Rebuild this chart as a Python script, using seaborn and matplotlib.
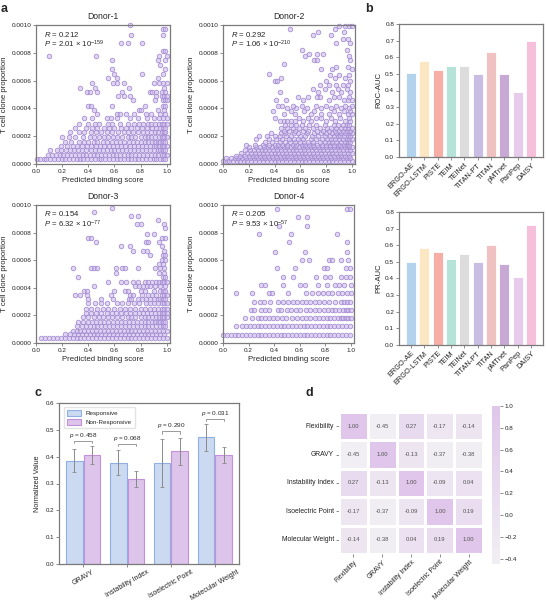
import numpy as np
import pandas as pd
import matplotlib
matplotlib.use("Agg")
import matplotlib.pyplot as plt
import seaborn as sns
from matplotlib.colors import LinearSegmentedColormap
from matplotlib.patches import Patch
from matplotlib.ticker import FormatStrFormatter, MultipleLocator

#
#
# DATA

# panel a : rows of points -> (T cell clone proportion, [predicted binding scores])
donor1_rows = [
  (0.000033, [0.01, 0.03, 0.06, 0.08, 0.11, 0.14, 0.17, 0.20, 0.22, 0.25, 0.28, 0.31, 0.34, 0.36, 0.39, 0.42, 0.45, 0.48, 0.50, 0.53, 0.56, 0.59, 0.62, 0.64, 0.67, 0.70, 0.73, 0.76, 0.78, 0.81, 0.84, 0.87, 0.90, 0.92, 0.95, 0.97, 0.99]),
  (0.000065, [0.09, 0.12, 0.15, 0.18, 0.21, 0.24, 0.27, 0.30, 0.33, 0.36, 0.38, 0.41, 0.44, 0.47, 0.50, 0.53, 0.56, 0.59, 0.61, 0.64, 0.67, 0.70, 0.73, 0.76, 0.79, 0.82, 0.85, 0.88, 0.91, 0.93, 0.96, 0.98, 1.00]),
  (0.000098, [0.11, 0.16, 0.19, 0.23, 0.26, 0.29, 0.32, 0.35, 0.38, 0.42, 0.45, 0.48, 0.51, 0.54, 0.57, 0.60, 0.63, 0.66, 0.69, 0.72, 0.75, 0.78, 0.81, 0.84, 0.87, 0.90, 0.93, 0.95, 0.97, 0.99]),
  (0.00013, [0.19, 0.24, 0.28, 0.31, 0.35, 0.39, 0.42, 0.46, 0.49, 0.52, 0.56, 0.59, 0.62, 0.65, 0.68, 0.72, 0.75, 0.78, 0.81, 0.84, 0.87, 0.90, 0.92, 0.94, 0.96, 0.98, 1.00]),
  (0.00016, [0.22, 0.27, 0.33, 0.37, 0.40, 0.44, 0.47, 0.51, 0.54, 0.58, 0.61, 0.64, 0.67, 0.71, 0.74, 0.77, 0.80, 0.83, 0.86, 0.89, 0.91, 0.93, 0.95, 0.97, 0.99]),
  (0.000195, [0.20, 0.25, 0.30, 0.36, 0.41, 0.44, 0.48, 0.52, 0.55, 0.59, 0.62, 0.66, 0.70, 0.73, 0.76, 0.80, 0.83, 0.86, 0.88, 0.91, 0.94, 0.96, 0.98, 1.00]),
  (0.00023, [0.26, 0.33, 0.37, 0.42, 0.46, 0.50, 0.54, 0.58, 0.63, 0.67, 0.70, 0.74, 0.78, 0.82, 0.85, 0.88, 0.91, 0.93, 0.96, 0.98, 0.99]),
  (0.00026, [0.30, 0.38, 0.43, 0.47, 0.52, 0.56, 0.60, 0.65, 0.69, 0.73, 0.77, 0.81, 0.85, 0.89, 0.92, 0.95, 0.97, 0.99]),
  (0.00029, [0.33, 0.40, 0.45, 0.48, 0.55, 0.58, 0.64, 0.70, 0.75, 0.79, 0.82, 0.86, 0.88, 0.91, 0.94, 0.96, 0.98, 1.00]),
  (0.00033, [0.37, 0.43, 0.54, 0.57, 0.62, 0.72, 0.78, 0.85, 0.90, 0.94, 0.97, 1.00]),
  (0.00036, [0.47, 0.62, 0.64, 0.69, 0.75, 0.84, 0.88, 0.95, 0.99]),
  (0.00039, [0.44, 0.79, 0.80, 0.93, 0.98]),
  (0.00042, [0.40, 0.42, 0.58, 0.83, 0.97, 0.99]),
  (0.00046, [0.74, 0.91, 0.97, 0.99, 1.00]),
  (0.00049, [0.63, 0.67, 0.72, 0.92, 0.96, 0.98, 1.00]),
  (0.00052, [0.39, 0.41, 0.47, 0.66, 0.87, 0.89, 0.92, 0.96, 0.99]),
  (0.00055, [0.34, 0.45, 0.71, 0.98]),
  (0.00058, [0.43, 0.59, 0.62, 0.67, 0.90, 0.94, 0.97, 1.00]),
  (0.00062, [0.55, 0.62, 0.93]),
  (0.00065, [0.60, 0.81, 0.97]),
  (0.00068, [0.58, 0.99]),
  (0.00071, [0.95]),
  (0.00075, [0.58, 0.93, 0.99]),
  (0.00078, [0.10, 0.46, 0.94, 1.00]),
  (0.00081, [0.97, 0.99]),
  (0.00087, [0.65, 0.70, 0.81]),
  (0.00093, [0.73, 0.97]),
  (0.00097, [0.97, 0.99]),
  (0.00100, [0.72]),
]

donor2_rows = [
  (0.00002, [0.00, 0.03, 0.05, 0.08, 0.11, 0.13, 0.16, 0.19, 0.22, 0.25, 0.28, 0.31, 0.34, 0.37, 0.40, 0.43, 0.46, 0.49, 0.52, 0.55, 0.58, 0.61, 0.64, 0.67, 0.70, 0.73, 0.76, 0.79, 0.82, 0.85, 0.88, 0.91, 0.94, 0.97, 1.00]),
  (0.00004, [0.02, 0.06, 0.09, 0.12, 0.15, 0.18, 0.21, 0.24, 0.27, 0.30, 0.33, 0.36, 0.39, 0.42, 0.45, 0.48, 0.51, 0.54, 0.57, 0.60, 0.63, 0.66, 0.69, 0.72, 0.75, 0.78, 0.81, 0.84, 0.87, 0.90, 0.93, 0.96, 0.99]),
  (0.00006, [0.10, 0.13, 0.17, 0.20, 0.23, 0.26, 0.29, 0.32, 0.35, 0.38, 0.41, 0.44, 0.47, 0.50, 0.53, 0.56, 0.59, 0.62, 0.65, 0.68, 0.71, 0.74, 0.77, 0.80, 0.83, 0.86, 0.89, 0.92, 0.95, 0.98]),
  (0.00008, [0.14, 0.19, 0.22, 0.25, 0.28, 0.31, 0.34, 0.37, 0.40, 0.43, 0.46, 0.49, 0.52, 0.55, 0.58, 0.61, 0.64, 0.67, 0.70, 0.73, 0.76, 0.79, 0.82, 0.85, 0.88, 0.91, 0.94, 0.97, 1.00]),
  (0.00010, [0.17, 0.21, 0.24, 0.27, 0.30, 0.33, 0.36, 0.39, 0.42, 0.45, 0.48, 0.51, 0.54, 0.57, 0.60, 0.63, 0.66, 0.69, 0.72, 0.75, 0.78, 0.81, 0.84, 0.87, 0.90, 0.93, 0.96, 0.99]),
  (0.00012, [0.20, 0.26, 0.29, 0.32, 0.35, 0.38, 0.41, 0.44, 0.47, 0.50, 0.53, 0.56, 0.59, 0.62, 0.65, 0.68, 0.71, 0.74, 0.77, 0.80, 0.83, 0.86, 0.89, 0.92, 0.95, 0.98, 1.00]),
  (0.00014, [0.18, 0.25, 0.31, 0.36, 0.40, 0.43, 0.46, 0.50, 0.54, 0.57, 0.61, 0.64, 0.67, 0.70, 0.73, 0.77, 0.80, 0.83, 0.86, 0.89, 0.91, 0.94, 0.96, 0.98]),
  (0.00016, [0.33, 0.38, 0.44, 0.48, 0.52, 0.56, 0.60, 0.63, 0.66, 0.70, 0.75, 0.79, 0.82, 0.85, 0.88, 0.92, 0.95, 0.97, 0.99]),
  (0.00018, [0.26, 0.36, 0.41, 0.46, 0.51, 0.55, 0.58, 0.62, 0.68, 0.72, 0.77, 0.81, 0.84, 0.87, 0.90, 0.93, 0.96, 0.98, 1.00]),
  (0.00020, [0.28, 0.34, 0.40, 0.44, 0.49, 0.53, 0.60, 0.64, 0.69, 0.74, 0.79, 0.83, 0.86, 0.89, 0.91, 0.94, 0.97, 0.99]),
  (0.00022, [0.37, 0.45, 0.48, 0.55, 0.58, 0.65, 0.71, 0.76, 0.80, 0.85, 0.88, 0.92, 0.95, 0.98, 1.00]),
  (0.00024, [0.47, 0.51, 0.56, 0.62, 0.66, 0.73, 0.78, 0.82, 0.87, 0.90, 0.93, 0.96, 0.99]),
  (0.00026, [0.45, 0.50, 0.54, 0.59, 0.64, 0.70, 0.75, 0.81, 0.84, 0.88, 0.92, 0.95, 0.97, 1.00]),
  (0.00028, [0.48, 0.53, 0.57, 0.61, 0.67, 0.72, 0.79, 0.86, 0.89, 0.93, 0.96, 0.98]),
  (0.00031, [0.44, 0.47, 0.50, 0.53, 0.56, 0.62, 0.68, 0.80, 0.87, 0.95, 0.99]),
  (0.00033, [0.40, 0.59, 0.66, 0.72, 0.76, 0.84, 0.91, 0.98]),
  (0.00036, [0.47, 0.56, 0.68, 0.76, 0.82, 0.90, 0.97, 1.00]),
  (0.00038, [0.39, 0.53, 0.63, 0.71, 0.86, 0.94, 0.99]),
  (0.00040, [0.50, 0.57, 0.65, 0.76, 0.84, 0.92, 0.98]),
  (0.00042, [0.43, 0.46, 0.54, 0.61, 0.72, 0.80, 0.88, 0.95, 1.00]),
  (0.00046, [0.41, 0.49, 0.62, 0.82, 0.94, 0.97, 1.00]),
  (0.00048, [0.58, 0.66, 0.73, 0.75, 0.86, 0.90, 0.98]),
  (0.00052, [0.44, 0.74, 0.85, 0.92, 0.99]),
  (0.00054, [0.70, 0.79, 0.89, 0.96]),
  (0.00057, [0.75, 0.82, 0.88, 0.93, 0.97]),
  (0.00060, [0.40, 0.42, 0.80, 0.99]),
  (0.00062, [0.45, 0.87, 0.95]),
  (0.00064, [0.83, 0.90, 0.98]),
  (0.00065, [0.36]),
  (0.00068, [0.76, 0.85, 1.00]),
  (0.00070, [0.88, 0.97]),
  (0.00072, [0.47]),
  (0.00075, [0.71, 0.73, 0.99]),
  (0.00078, [0.64, 0.98]),
  (0.00079, [0.67, 0.73, 0.78]),
  (0.00082, [0.61, 0.96]),
  (0.00087, [0.88, 0.99]),
  (0.00090, [0.93, 0.97]),
  (0.00093, [0.70, 0.84]),
  (0.00095, [0.74, 0.94]),
  (0.00097, [0.52, 0.87]),
  (0.00099, [0.90, 0.95, 0.98, 1.00]),
]

donor3_rows = [
  (0.000035, [0.04, 0.07, 0.10, 0.13, 0.16, 0.19, 0.22, 0.25, 0.28, 0.31, 0.34, 0.37, 0.40, 0.43, 0.46, 0.49, 0.52, 0.55, 0.58, 0.61, 0.64, 0.67, 0.70, 0.73, 0.76, 0.79, 0.82, 0.85, 0.88, 0.91, 0.94, 0.97, 1.00]),
  (0.000065, [0.22, 0.26, 0.29, 0.32, 0.35, 0.38, 0.41, 0.44, 0.47, 0.50, 0.53, 0.56, 0.59, 0.62, 0.65, 0.68, 0.71, 0.74, 0.77, 0.80, 0.83, 0.86, 0.89, 0.92, 0.95, 0.98]),
  (0.00009, [0.28, 0.31, 0.34, 0.37, 0.40, 0.43, 0.46, 0.49, 0.52, 0.55, 0.58, 0.61, 0.64, 0.67, 0.70, 0.73, 0.76, 0.79, 0.82, 0.85, 0.88, 0.91, 0.94, 0.97, 1.00]),
  (0.00012, [0.31, 0.35, 0.38, 0.41, 0.44, 0.47, 0.50, 0.53, 0.56, 0.59, 0.62, 0.65, 0.68, 0.71, 0.74, 0.77, 0.80, 0.83, 0.86, 0.89, 0.92, 0.95, 0.97, 0.99]),
  (0.000155, [0.32, 0.36, 0.40, 0.43, 0.46, 0.49, 0.52, 0.55, 0.59, 0.62, 0.65, 0.68, 0.71, 0.74, 0.77, 0.80, 0.83, 0.86, 0.89, 0.91, 0.93, 0.95, 0.97, 0.99]),
  (0.00019, [0.36, 0.40, 0.44, 0.48, 0.51, 0.55, 0.58, 0.62, 0.66, 0.70, 0.73, 0.76, 0.80, 0.83, 0.86, 0.89, 0.92, 0.94, 0.96, 0.98, 1.00]),
  (0.00022, [0.38, 0.42, 0.46, 0.50, 0.54, 0.58, 0.61, 0.65, 0.69, 0.72, 0.76, 0.79, 0.82, 0.85, 0.88, 0.91, 0.94, 0.96, 0.98, 1.00]),
  (0.00025, [0.38, 0.42, 0.47, 0.51, 0.55, 0.60, 0.64, 0.68, 0.72, 0.76, 0.80, 0.83, 0.87, 0.90, 0.93, 0.96, 0.98, 1.00]),
  (0.00029, [0.40, 0.45, 0.50, 0.54, 0.62, 0.66, 0.70, 0.75, 0.79, 0.84, 0.87, 0.90, 0.93, 0.96, 0.98, 1.00]),
  (0.00032, [0.40, 0.50, 0.59, 0.71, 0.73, 0.78, 0.81, 0.84, 0.87, 0.90, 0.93, 0.95, 0.97, 0.99]),
  (0.00035, [0.30, 0.34, 0.39, 0.57, 0.72, 0.74, 0.81, 0.86, 0.89, 0.92, 0.96, 0.98, 1.00]),
  (0.00038, [0.37, 0.39, 0.60, 0.68, 0.70, 0.80, 0.83, 0.90, 0.95, 0.97, 0.99]),
  (0.00041, [0.44, 0.76, 0.79, 0.82, 0.85, 0.87, 0.91, 0.95, 0.99]),
  (0.00044, [0.55, 0.65, 0.69, 0.74, 0.78, 0.83, 0.86, 0.89, 0.92, 0.94, 0.96, 0.98, 1.00]),
  (0.00048, [0.32, 0.97, 0.99]),
  (0.00051, [0.61, 0.94, 0.98]),
  (0.00054, [0.28, 0.42, 0.44, 0.47, 0.61, 0.66, 0.68, 0.78, 0.91, 0.95, 0.98]),
  (0.00057, [0.94, 0.97]),
  (0.00060, [0.96, 0.99]),
  (0.00064, [0.87, 0.97, 0.99]),
  (0.00067, [0.74, 0.82, 0.85, 0.98]),
  (0.00070, [0.65, 0.72, 0.96]),
  (0.00073, [0.46, 0.84, 0.86, 0.94]),
  (0.00076, [0.40, 0.42, 0.96, 0.99]),
  (0.00079, [0.85, 0.90]),
  (0.00083, [0.99]),
  (0.00086, [0.77, 0.80, 0.98]),
  (0.00089, [0.93]),
  (0.00092, [0.73, 0.78]),
  (0.00095, [0.44]),
  (0.00098, [0.58]),
]

donor4_rows = [
  (0.00006, [0.00, 0.03, 0.06, 0.09, 0.12, 0.15, 0.18, 0.21, 0.24, 0.27, 0.30, 0.33, 0.36, 0.39, 0.42, 0.45, 0.48, 0.51, 0.54, 0.57, 0.60, 0.63, 0.66, 0.69, 0.72, 0.75, 0.78, 0.81, 0.84, 0.87, 0.90, 0.93, 0.96, 0.99]),
  (0.00012, [0.10, 0.15, 0.18, 0.21, 0.24, 0.27, 0.30, 0.33, 0.36, 0.39, 0.42, 0.45, 0.48, 0.51, 0.54, 0.57, 0.60, 0.63, 0.66, 0.69, 0.72, 0.75, 0.78, 0.81, 0.84, 0.87, 0.90, 0.93, 0.96, 0.99]),
  (0.00018, [0.17, 0.23, 0.27, 0.30, 0.33, 0.36, 0.39, 0.42, 0.46, 0.49, 0.54, 0.58, 0.62, 0.65, 0.68, 0.72, 0.75, 0.78, 0.81, 0.84, 0.87, 0.90, 0.92, 0.94, 0.96, 0.98, 1.00]),
  (0.00024, [0.22, 0.24, 0.30, 0.33, 0.36, 0.43, 0.45, 0.50, 0.53, 0.57, 0.60, 0.65, 0.68, 0.72, 0.75, 0.79, 0.82, 0.85, 0.88, 0.91, 0.94, 0.96, 0.98, 1.00]),
  (0.00030, [0.24, 0.29, 0.32, 0.37, 0.43, 0.47, 0.51, 0.55, 0.58, 0.62, 0.65, 0.68, 0.72, 0.75, 0.79, 0.83, 0.88, 0.92, 0.95, 0.97, 0.99]),
  (0.00036, [0.10, 0.23, 0.36, 0.38, 0.51, 0.65, 0.70, 0.74, 0.78, 0.82, 0.85, 0.90, 0.93, 0.97, 1.00]),
  (0.00042, [0.30, 0.33, 0.47, 0.60, 0.64, 0.74, 0.81, 0.88, 0.91, 0.95, 1.00]),
  (0.00048, [0.47, 0.55, 0.73, 0.80, 0.84, 0.92, 0.96, 0.99]),
  (0.00054, [0.42, 0.56, 0.79, 0.81, 0.96, 0.99]),
  (0.00060, [0.62, 0.67, 0.83, 0.85, 0.92, 0.98]),
  (0.00066, [0.41, 0.64, 0.97]),
  (0.00073, [0.52, 0.97]),
  (0.00079, [0.28, 0.53, 0.89]),
  (0.00085, [0.44, 0.66]),
  (0.00091, [0.59, 0.66]),
  (0.00097, [0.42, 0.97, 0.99]),
]

donor_titles = ["Donor-1", "Donor-2", "Donor-3", "Donor-4"]
donor_r = ["0.212", "0.292", "0.154", "0.205"]
donor_p_base = ["2.01", "1.06", "6.32", "9.53"]
donor_p_exp = ["-159", "-210", "-77", "-57"]

# panel b
models = ["ERGO-AE", "ERGO-LSTM", "PISTE", "TEIM", "TEINet", "TITAN-PT", "TITAN", "pMTnet", "PanPep", "DAISY"]
roc_auc = [0.505, 0.580, 0.525, 0.545, 0.545, 0.500, 0.630, 0.497, 0.390, 0.700]
pr_auc = [0.500, 0.585, 0.558, 0.520, 0.545, 0.500, 0.600, 0.485, 0.410, 0.720]
model_colors = ["#b3d3ec", "#fde6c2", "#f6aea7", "#b5e3d8", "#dcdcdc",
                "#c9bde4", "#f0c1c1", "#c8a9d5", "#e6cbeb", "#f6c0da"]

# panel c
features = ["GRAVY", "Instability Index", "Isoelectric Point", "Molecular Weight"]
resp_mean = [0.385, 0.378, 0.375, 0.472]
resp_low = [0.341, 0.331, 0.286, 0.421]
resp_high = [0.428, 0.425, 0.464, 0.521]
nonresp_mean = [0.406, 0.318, 0.421, 0.407]
nonresp_low = [0.374, 0.288, 0.370, 0.376]
nonresp_high = [0.438, 0.347, 0.471, 0.436]
p_values = ["0.458", "0.068", "0.290", "0.031"]
bracket_y = [0.458, 0.447, 0.494, 0.540]

# panel d
corr_labels = ["Flexibility", "GRAVY", "Instability Index", "Isoelectric Point", "Molecular Weight"]
corr_values = [
  [1.00, -0.45, 0.27, -0.17, -0.14],
  [-0.45, 1.00, -0.13, -0.37, -0.38],
  [0.27, -0.13, 1.00, -0.09, 0.04],
  [-0.17, -0.37, -0.09, 1.00, 0.19],
  [-0.14, -0.38, 0.04, 0.19, 1.00],
]

# DATA
#
#

sns.set_theme(style="ticks")
plt.rcParams['font.family'] = ['Liberation Sans', 'DejaVu Sans']
plt.rcParams['mathtext.fontset'] = 'custom'
plt.rcParams['mathtext.rm'] = 'Liberation Sans'
plt.rcParams['mathtext.it'] = 'Liberation Sans:italic'
plt.rcParams['axes.edgecolor'] = '#7a7a7a'
plt.rcParams['axes.linewidth'] = 0.9
plt.rcParams['xtick.color'] = '#7a7a7a'
plt.rcParams['ytick.color'] = '#7a7a7a'
plt.rcParams['xtick.labelcolor'] = '#222222'
plt.rcParams['ytick.labelcolor'] = '#222222'
plt.rcParams['xtick.major.size'] = 2
plt.rcParams['ytick.major.size'] = 2
plt.rcParams['xtick.major.width'] = 0.6
plt.rcParams['ytick.major.width'] = 0.6
plt.rcParams['xtick.major.pad'] = 1.5
plt.rcParams['ytick.major.pad'] = 1.5

W, H = 546, 603
fig = plt.figure(figsize=(W / 100, H / 100), dpi=100)

def add_ax(left, top, right, bottom):
  # place an axes from pixel coordinates (origin top left)
  return fig.add_axes([left / W, 1 - bottom / H, (right - left) / W, (bottom - top) / H])

#
#
# panel a

donor_rows = [donor1_rows, donor2_rows, donor3_rows, donor4_rows]
donor_boxes = [(36, 25, 170, 164), (223, 25, 355, 164), (36, 205, 170, 343), (223, 205, 354, 343)]

for index in range(4):
  ax = add_ax(*donor_boxes[index])
  rows = donor_rows[index]
  df = pd.DataFrame({
    "score": [x for y, xs in rows for x in xs],
    "prop": [y for y, xs in rows for x in xs],
  })
  sns.scatterplot(data=df, x="score", y="prop", ax=ax, s=11, linewidth=0.55,
                  color=(0.80, 0.73, 0.92, 0.6), edgecolor="#a48bd2", clip_on=False)
  ax.set_xlim(0, 1.025)
  ax.set_ylim(0, 0.001)
  ax.xaxis.set_major_locator(MultipleLocator(0.2))
  ax.yaxis.set_major_locator(MultipleLocator(0.0002))
  ax.xaxis.set_major_formatter(FormatStrFormatter('%.1f'))
  ax.yaxis.set_major_formatter(FormatStrFormatter('%.4f'))
  ax.tick_params(labelsize=4.6)
  ax.set_xlabel("Predicted binding score", fontsize=5.6, labelpad=2)
  ax.set_ylabel("T cell clone proportion", fontsize=5.6, labelpad=2)
  ax.set_title(donor_titles[index], fontsize=6.2, pad=4)
  ax.text(0.06, 0.935, rf"$R$ = {donor_r[index]}", transform=ax.transAxes, fontsize=5.6, va="center")
  ax.text(0.06, 0.858, rf"$P$ = {donor_p_base[index]} × 10$^{{{donor_p_exp[index]}}}$",
          transform=ax.transAxes, fontsize=5.6, va="center")

#
#
# panel b

for box, values, label in [((399, 24, 543, 157), roc_auc, "ROC-AUC"), ((399, 212, 543, 345), pr_auc, "PR-AUC")]:
  ax = add_ax(*box)
  sns.barplot(x=models, y=values, hue=models, palette=model_colors, legend=False, ax=ax,
              width=0.75, edgecolor="white", linewidth=0.6, saturation=1)
  ax.set_xlim(-0.9, 9.9)
  ax.set_ylim(0, 0.8)
  ax.yaxis.set_major_locator(MultipleLocator(0.1))
  ax.yaxis.set_major_formatter(FormatStrFormatter('%.1f'))
  ax.tick_params(labelsize=4.6)
  plt.setp(ax.get_xticklabels(), rotation=45, ha="right", rotation_mode="anchor", fontsize=5.3)
  ax.set_ylabel(label, fontsize=5.6, labelpad=2)

#
#
# panel c

ax = add_ax(59, 403, 239, 564)
df_c = pd.DataFrame({
  "feature": features * 2,
  "value": resp_mean + nonresp_mean,
  "group": ["Responsive"] * 4 + ["Non-Responsive"] * 4,
})
c_faces = {"Responsive": "#cbdaf0", "Non-Responsive": "#ddc4ea"}
c_edges = {"Responsive": "#8fb0e3", "Non-Responsive": "#c490da"}
sns.barplot(data=df_c, x="feature", y="value", hue="group", palette=c_faces, ax=ax,
            width=0.8, gap=0.06, saturation=1, errorbar=None, linewidth=0.8, legend=False)

centers = {}
for container, group in zip(ax.containers, ["Responsive", "Non-Responsive"]):
  centers[group] = []
  for bar in container:
    bar.set_edgecolor(c_edges[group])
    centers[group].append(bar.get_x() + bar.get_width() / 2)

for group, means, lows, highs in [("Responsive", resp_mean, resp_low, resp_high),
                                  ("Non-Responsive", nonresp_mean, nonresp_low, nonresp_high)]:
  err = [np.array(means) - np.array(lows), np.array(highs) - np.array(means)]
  ax.errorbar(centers[group], means, yerr=err, fmt="none", ecolor="#8a8a8a",
              elinewidth=0.7, capsize=1.6, capthick=0.6)

for i in range(4):
  x1, x2 = centers["Responsive"][i], centers["Non-Responsive"][i]
  h = bracket_y[i]
  ax.plot([x1, x1, x2, x2], [h - 0.008, h, h, h - 0.008], color="#8a8a8a", lw=0.6)
  ax.text((x1 + x2) / 2, h + 0.004, rf"$p$ = {p_values[i]}", ha="center", va="bottom", fontsize=4.6)

ax.set_xlim(-0.55, 3.55)
ax.set_ylim(0, 0.6)
ax.yaxis.set_major_locator(MultipleLocator(0.1))
ax.yaxis.set_major_formatter(FormatStrFormatter('%.1f'))
ax.tick_params(labelsize=4.4)
plt.setp(ax.get_xticklabels(), rotation=30, ha="center", fontsize=5)
ax.set_xlabel("")
ax.set_ylabel("Normalized Value", fontsize=5.2, labelpad=3)
handles = [Patch(facecolor=c_faces[g], edgecolor=c_edges[g], linewidth=0.8) for g in c_faces]
ax.legend(handles, list(c_faces), loc="upper left", fontsize=4.5, frameon=True,
          edgecolor="#dddddd", fancybox=True, handlelength=2.2, handleheight=1.0,
          borderpad=0.5, labelspacing=0.5, bbox_to_anchor=(0.01, 0.995))

#
#
# panel d

ax = add_ax(339, 412, 483, 554)
cax = add_ax(492, 406, 500, 564)
cmap_d = LinearSegmentedColormap.from_list("soft_purple", ["#f1eff3", "#dfc6ea"])
corr_df = pd.DataFrame(corr_values, index=corr_labels, columns=corr_labels)
sns.heatmap(corr_df, ax=ax, cbar_ax=cax, cmap=cmap_d, annot=True, fmt=".2f",
            annot_kws={"fontsize": 4.2, "color": "#555555"}, linewidths=1, linecolor="white")
ax.tick_params(labelsize=4.9, length=2)
plt.setp(ax.get_yticklabels(), rotation=0)
plt.setp(ax.get_xticklabels(), rotation=45, ha="right", rotation_mode="anchor")
cax.tick_params(labelsize=4.5, length=2)
cax.yaxis.set_major_locator(MultipleLocator(0.2))

#
#
# panel letters

for letter, x, y in [("a", 4, 9), ("b", 369, 9), ("c", 38, 393), ("d", 309, 393)]:
  fig.text(x / W, 1 - y / H, letter, fontsize=9, fontweight="bold", ha="center", va="center")

fig.savefig("out.png", dpi=100)
